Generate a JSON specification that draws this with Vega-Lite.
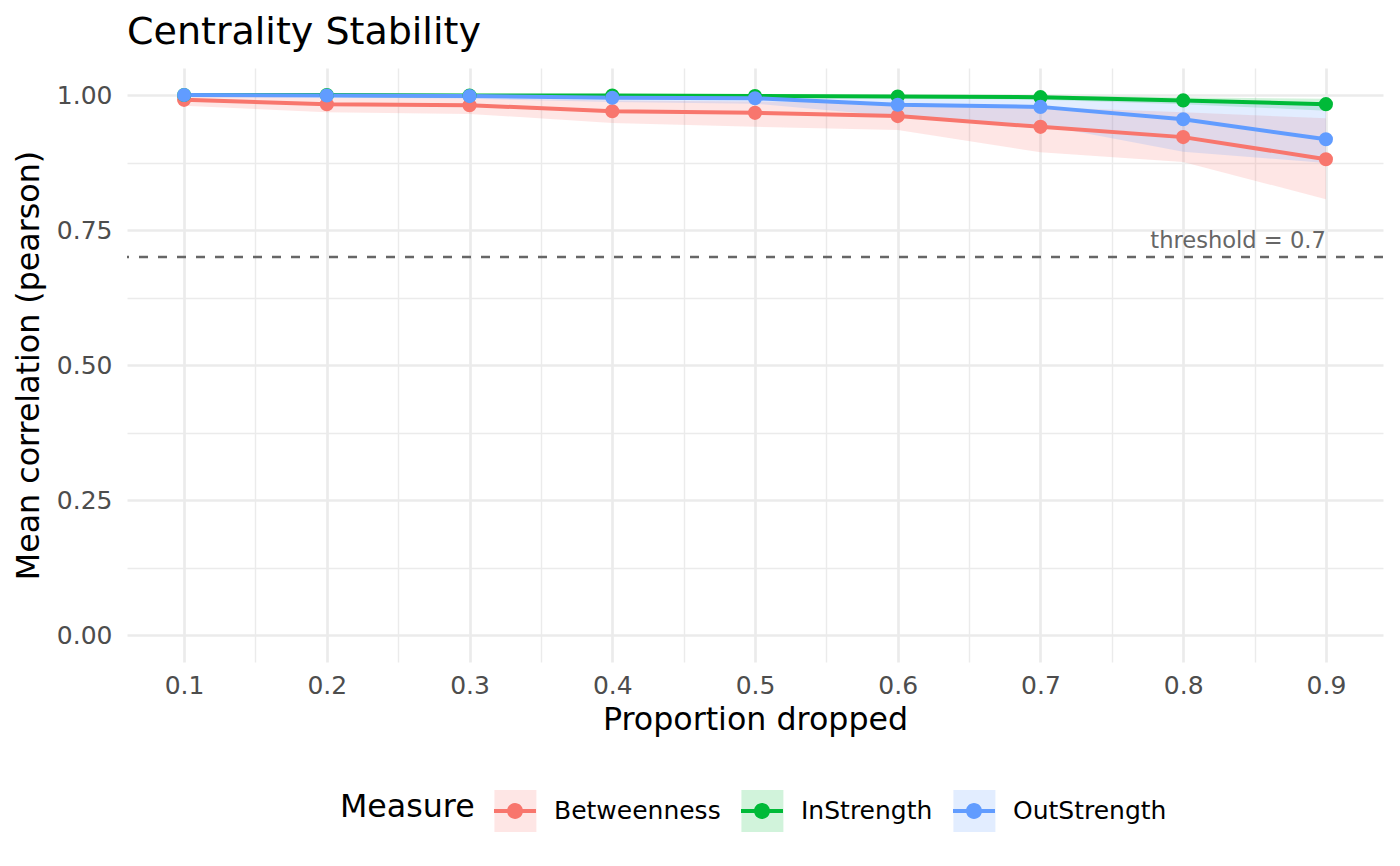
{
  "$schema": "https://vega.github.io/schema/vega-lite/v6.json",
  "width": 1256,
  "height": 594,
  "autosize": "none",
  "padding": {"left": 127, "top": 68, "right": 17, "bottom": 204},
  "background": "white",
  "title": {"text": "Centrality Stability", "anchor": "start", "frame": "group", "font": "DejaVu Sans", "fontSize": 38, "fontWeight": "normal", "color": "black", "baseline": "alphabetic", "offset": -14},
  "config": {
    "view": {"stroke": null},
    "axis": {"domain": false, "ticks": false, "tickSize": 0, "labelFont": "DejaVu Sans", "labelFontSize": 25, "labelColor": "#4D4D4D", "titleFont": "DejaVu Sans", "titleFontSize": 31.7, "titleFontWeight": "normal", "titleColor": "black", "gridColor": "#EBEBEB", "labelOverlap": false, "labelFlush": false}
  },
  "datasets": {
    "stab": [
      {"p": 0.1, "Measure": "Betweenness", "mean": 0.991, "lower": 0.980, "upper": 0.998},
      {"p": 0.2, "Measure": "Betweenness", "mean": 0.983, "lower": 0.968, "upper": 0.995},
      {"p": 0.3, "Measure": "Betweenness", "mean": 0.981, "lower": 0.965, "upper": 0.994},
      {"p": 0.4, "Measure": "Betweenness", "mean": 0.970, "lower": 0.948, "upper": 0.990},
      {"p": 0.5, "Measure": "Betweenness", "mean": 0.967, "lower": 0.941, "upper": 0.988},
      {"p": 0.6, "Measure": "Betweenness", "mean": 0.961, "lower": 0.935, "upper": 0.985},
      {"p": 0.7, "Measure": "Betweenness", "mean": 0.941, "lower": 0.894, "upper": 0.978},
      {"p": 0.8, "Measure": "Betweenness", "mean": 0.922, "lower": 0.876, "upper": 0.968},
      {"p": 0.9, "Measure": "Betweenness", "mean": 0.881, "lower": 0.807, "upper": 0.957},
      {"p": 0.1, "Measure": "InStrength", "mean": 1.000, "lower": 0.999, "upper": 1.000},
      {"p": 0.2, "Measure": "InStrength", "mean": 1.000, "lower": 0.999, "upper": 1.000},
      {"p": 0.3, "Measure": "InStrength", "mean": 0.999, "lower": 0.998, "upper": 1.000},
      {"p": 0.4, "Measure": "InStrength", "mean": 0.999, "lower": 0.997, "upper": 1.000},
      {"p": 0.5, "Measure": "InStrength", "mean": 0.998, "lower": 0.996, "upper": 1.000},
      {"p": 0.6, "Measure": "InStrength", "mean": 0.997, "lower": 0.994, "upper": 0.999},
      {"p": 0.7, "Measure": "InStrength", "mean": 0.996, "lower": 0.991, "upper": 0.999},
      {"p": 0.8, "Measure": "InStrength", "mean": 0.990, "lower": 0.983, "upper": 0.996},
      {"p": 0.9, "Measure": "InStrength", "mean": 0.983, "lower": 0.971, "upper": 0.993},
      {"p": 0.1, "Measure": "OutStrength", "mean": 1.000, "lower": 0.998, "upper": 1.000},
      {"p": 0.2, "Measure": "OutStrength", "mean": 0.999, "lower": 0.996, "upper": 1.000},
      {"p": 0.3, "Measure": "OutStrength", "mean": 0.998, "lower": 0.993, "upper": 1.000},
      {"p": 0.4, "Measure": "OutStrength", "mean": 0.995, "lower": 0.987, "upper": 0.999},
      {"p": 0.5, "Measure": "OutStrength", "mean": 0.994, "lower": 0.984, "upper": 0.999},
      {"p": 0.6, "Measure": "OutStrength", "mean": 0.982, "lower": 0.960, "upper": 0.995},
      {"p": 0.7, "Measure": "OutStrength", "mean": 0.978, "lower": 0.945, "upper": 0.994},
      {"p": 0.8, "Measure": "OutStrength", "mean": 0.955, "lower": 0.895, "upper": 0.990},
      {"p": 0.9, "Measure": "OutStrength", "mean": 0.918, "lower": 0.874, "upper": 0.985}
    ],
    "thr": [{"threshold": 0.7, "xpos": 0.9, "label": "threshold = 0.7"}]
  },
  "layer": [
    {
      "data": {"name": "stab"},
      "mark": {"type": "area", "opacity": 0.18},
      "encoding": {
        "x": {"field": "p", "type": "quantitative", "scale": {"domain": [0.06, 0.94], "nice": false, "zero": false},
          "axis": {"title": "Proportion dropped", "values": [0.1, 0.15, 0.2, 0.25, 0.3, 0.35, 0.4, 0.45, 0.5, 0.55, 0.6, 0.65, 0.7, 0.75, 0.8, 0.85, 0.9],
            "labelExpr": "abs(datum.value*10 - round(datum.value*10)) < 0.01 ? format(datum.value, '.1f') : ''",
            "gridWidth": {"condition": {"test": "abs(datum.value*10 - round(datum.value*10)) < 0.01", "value": 2.7}, "value": 1.4},
            "labelPadding": 11, "titlePadding": 6}},
        "y": {"field": "lower", "type": "quantitative", "scale": {"domain": [-0.05, 1.05], "nice": false, "zero": false},
          "axis": {"title": "Mean correlation (pearson)", "values": [0, 0.125, 0.25, 0.375, 0.5, 0.625, 0.75, 0.875, 1.0],
            "labelExpr": "abs(datum.value*4 - round(datum.value*4)) < 0.01 ? format(datum.value, '.2f') : ''",
            "gridWidth": {"condition": {"test": "abs(datum.value*4 - round(datum.value*4)) < 0.01", "value": 2.7}, "value": 1.4},
            "labelPadding": 15, "titlePadding": 11}},
        "y2": {"field": "upper"},
        "fill": {"field": "Measure", "type": "nominal",
          "scale": {"domain": ["Betweenness", "InStrength", "OutStrength"], "range": ["#F8766D", "#00BA38", "#619CFF"]},
          "legend": {"orient": "none", "legendX": 367.4, "legendY": 722, "direction": "horizontal", "padding": 0,
            "title": null,
            "labelFont": "DejaVu Sans", "labelFontSize": 25, "labelColor": "black", "labelOffset": 18, "labelLimit": 400, "labelOpacity": 0,
            "columnPadding": 20, "symbolType": "square", "symbolSize": 1764, "symbolOpacity": 0.18, "symbolStrokeWidth": 0}}
      }
    },
    {
      "data": {"name": "thr"},
      "mark": {"type": "rule", "color": "#666666", "strokeWidth": 2.7, "strokeDash": [9, 10]},
      "encoding": {"y": {"field": "threshold", "type": "quantitative"}}
    },
    {
      "data": {"name": "thr"},
      "mark": {"type": "text", "align": "right", "baseline": "alphabetic", "dy": -9, "font": "DejaVu Sans", "fontSize": 22.6, "color": "#666666"},
      "encoding": {
        "x": {"field": "xpos", "type": "quantitative"},
        "y": {"field": "threshold", "type": "quantitative"},
        "text": {"field": "label"}
      }
    },
    {
      "data": {"name": "stab"},
      "mark": {"type": "line", "strokeWidth": 4},
      "encoding": {
        "x": {"field": "p", "type": "quantitative"},
        "y": {"field": "mean", "type": "quantitative"},
        "stroke": {"field": "Measure", "type": "nominal", "scale": {"range": ["#F8766D", "#00BA38", "#619CFF"]}, "legend": null}
      }
    },
    {
      "data": {"name": "stab"},
      "mark": {"type": "circle", "size": 200, "opacity": 1},
      "encoding": {
        "x": {"field": "p", "type": "quantitative"},
        "y": {"field": "mean", "type": "quantitative"},
        "color": {"field": "Measure", "type": "nominal", "scale": {"range": ["#F8766D", "#00BA38", "#619CFF"]},
          "legend": {"orient": "none", "legendX": 213, "legendY": 722, "direction": "horizontal", "padding": 0,
            "title": "Measure", "titleOrient": "left", "titleAnchor": "middle", "titleBaseline": "middle", "titleFont": "DejaVu Sans", "titleFontSize": 31.7, "titleFontWeight": "normal", "titleColor": "black", "titlePadding": 19,
            "labelFont": "DejaVu Sans", "labelFontSize": 25, "labelColor": "black", "labelOffset": 18, "labelLimit": 400,
            "columnPadding": 20, "symbolType": "M-1,-0.1H1V0.1H-1Z M-0.38,0A0.38,0.38 0 1,1 0.38,0A0.38,0.38 0 1,1 -0.38,0Z", "symbolSize": 1764, "symbolStrokeWidth": 0, "symbolOpacity": 1}}
      }
    }
  ]
}
